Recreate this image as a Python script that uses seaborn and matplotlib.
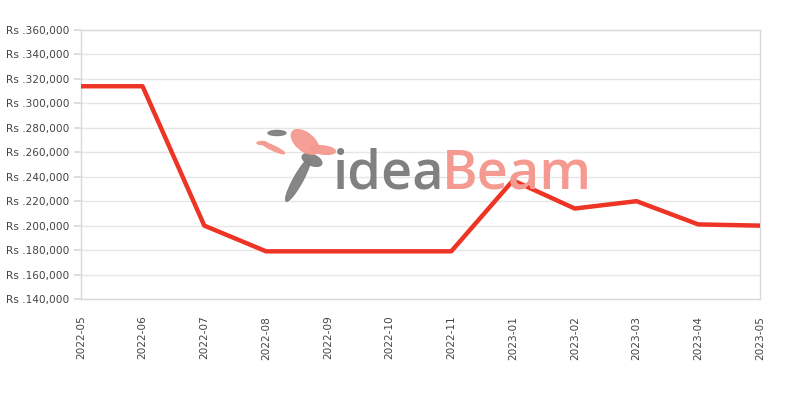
import matplotlib
matplotlib.use("Agg")
import matplotlib.pyplot as plt
import seaborn as sns
import pandas as pd
from matplotlib.ticker import FuncFormatter
from matplotlib.patches import Ellipse

months = ["2022-05", "2022-06", "2022-07", "2022-08", "2022-09", "2022-10",
          "2022-11", "2023-01", "2023-02", "2023-03", "2023-04", "2023-05"]
prices = [314000, 314000, 200000, 179000, 179000, 179000,
          179000, 237000, 214000, 220000, 201000, 200000]

df = pd.DataFrame({"month": months, "price": prices})

sns.set_theme(style="white")
plt.rcParams['font.family'] = ['DejaVu Sans']

W, H = 800, 400
fig = plt.figure(figsize=(8, 4), dpi=100)
ax = fig.add_axes([0.101, 0.2525, 0.849, 0.6725])
ax.patch.set_alpha(0)

# watermark text
t1 = fig.text(333 / W, 1 - 189 / H, "idea", fontsize=39, color="#808080",
              family="Open Sans", fontweight="semibold", ha="left",
              va="baseline", zorder=0)
fig.canvas.draw()
bb = t1.get_window_extent()
fig.text(bb.x1 / W - 0.004, 1 - 189 / H, "Beam", fontsize=39, color="#f59a90",
         family="Open Sans", fontweight="semibold", ha="left",
         va="baseline", zorder=0)

# watermark icon (rough)
def px(x, y):
    return (x / W, 1 - y / H)

icons = [
    (px(298, 180), 10 / W, 44 / H, -15, "#808080"),
    (px(312, 160), 16 / W, 14 / H, 30, "#808080"),
    (px(305, 142), 22 / W, 26 / H, 20, "#f59a90"),
    (px(323, 150), 26 / W, 8 / H, -20, "#f59a90"),
    (px(277, 133), 18 / W, 5 / H, 0, "#808080"),
    (px(273, 148), 7 / W, 16 / H, 45, "#f59a90"),
    (px(262, 143), 10 / W, 3 / H, 0, "#f59a90"),
]
for c, w, h, ang, col in icons:
    fig.patches.append(Ellipse(c, w, h, angle=ang, transform=fig.transFigure,
                               color=col, zorder=0, alpha=0.95))

sns.lineplot(data=df, x="month", y="price", ax=ax, color="#ee3424",
             linewidth=3.2, sort=False, zorder=3)

ax.set_ylim(140000, 360000)
ax.set_yticks(range(140000, 360001, 20000))
ax.yaxis.set_major_formatter(FuncFormatter(lambda v, p: "Rs .{:,.0f}".format(v)))
ax.set_xlim(0, len(months) - 1)
ax.set_xlabel("")
ax.set_ylabel("")
ax.grid(axis="y", color="#e6e6e6", linewidth=1)
ax.grid(axis="x", visible=False)
for s in ax.spines.values():
    s.set_color("#d9d9d9")
    s.set_linewidth(1)
ax.tick_params(axis="y", left=True, length=5, color="#d9d9d9", labelsize=7.6,
               labelcolor="#444444", pad=3)
ax.tick_params(axis="x", bottom=False, labelsize=7.6, labelcolor="#444444",
               labelrotation=90, pad=6)

fig.savefig("out.png", dpi=100)
